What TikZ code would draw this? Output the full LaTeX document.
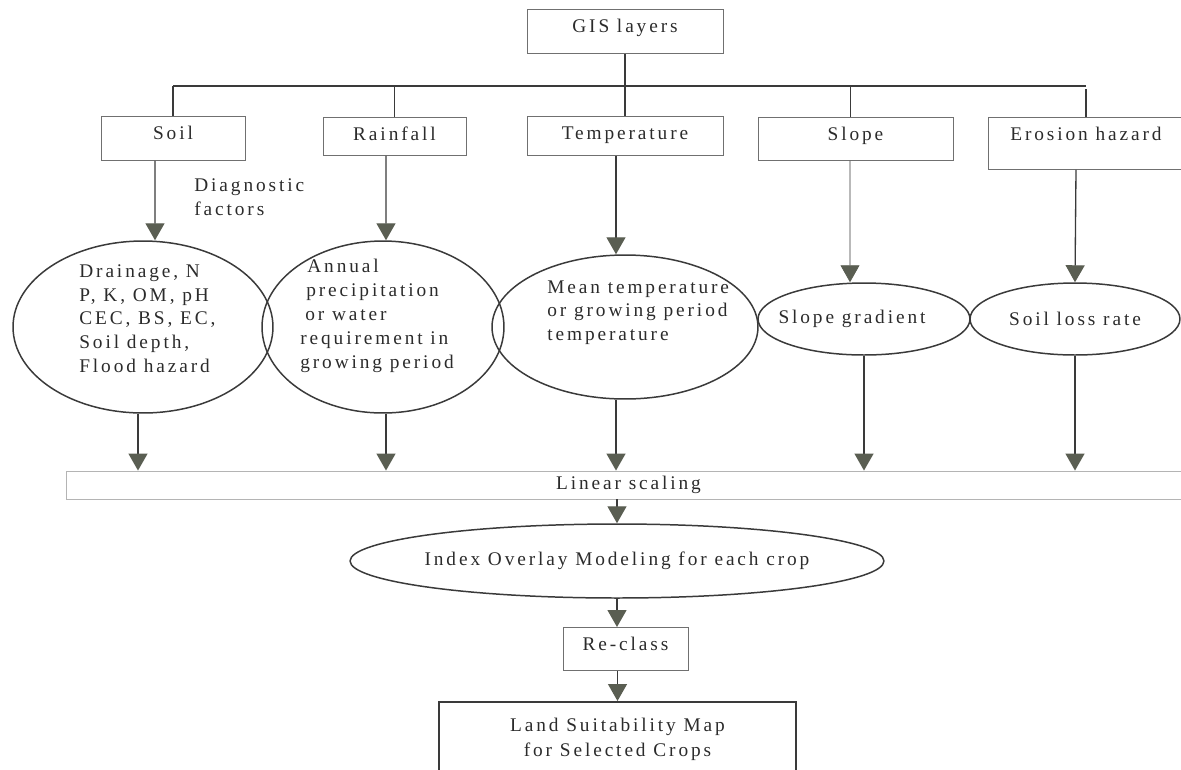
\documentclass[tikz,border=0pt]{standalone}
\usepackage{fontspec}
\setmainfont{Liberation Serif}[LetterSpace=15]
\usepackage{tikz}
\usetikzlibrary{positioning, calc, shapes.geometric, arrows.meta}
\tikzset{
    Arrow/.style = {
        line width=0.75pt, draw=lineGray,
        -{Triangle[width=0.38cm, length=0.34cm, fill=#1, color=#1]}
    },
    Arrow/.default={tipFill},
    layerBox/.style = {
        draw=boxGray, line width=0.5pt, anchor=north,
        inner xsep=0pt, inner ysep=0.12cm,
        text height=0.34cm, text depth=#1
    },
    layerBox/.default={0.3cm},
    factor/.style = {
        ellipse, draw=lineGray, line width=0.85pt,
        inner sep=0pt, align=left
    },
    note/.style = {align=left, inner sep=0pt},
    bus/.style = {draw=lineGray, line width=0.75pt}
}
\definecolor{lineGray}{HTML}{3A3A3A}
\definecolor{boxGray}{HTML}{707070}
\definecolor{barGray}{HTML}{B4B4B4}
\definecolor{tipFill}{HTML}{5A5E52}
\definecolor{textGray}{HTML}{2B2B2B}

\begin{document}
\begin{tikzpicture}[x=0.02cm, y=-0.02cm,
    every node/.style={font=\fontsize{11}{13.6}\selectfont, text=textGray}]
    \clip (0,0) rectangle (1181,769);
    % GIS layers and the five inputs
    \node[layerBox, minimum width=3.92cm] (gis) at (625,9) {GIS layers};
    \coordinate (bus) at (627,86);
    \node[layerBox, minimum width=2.88cm] (soil) at (173,116) {Soil};
    \node[layerBox=0.18cm, minimum width=2.86cm] (rain) at (394.5,117) {Rainfall};
    \node[layerBox=0.2cm, minimum width=3.92cm] (temp) at (625,116) {Temperature};
    \node[layerBox=0.28cm, minimum width=3.9cm] (slope) at (855.5,117) {Slope};
    \node[layerBox=0.46cm, minimum width=3.92cm] (erosion) at (1086,117) {Erosion hazard};
    \node[note, anchor=north west] (diag) at (194,178) {Diagnostic\\factors};
    % factors
    \node[factor, minimum width=5.2cm, minimum height=3.44cm] (soilE) at (143,327) {};
    \node[note, anchor=north west] (soilTxt) at (79,264)
        {Drainage, N\\P, K, OM, pH\\CEC, BS, EC,\\Soil depth,\\Flood hazard};
    \node[factor, minimum width=4.84cm, minimum height=3.44cm] (rainE) at (383,327) {};
    \node[note, anchor=north west] (rainTxt) at (300,259)
        {\hspace*{0.14cm}Annual\\\hspace*{0.12cm}precipitation\\\hspace*{0.1cm}or water\\requirement in\\growing period};
    \node[factor, minimum width=5.32cm, minimum height=2.88cm] (tempE) at (625,327) {};
    \node[note, anchor=north west] (tempTxt) at (547,280)
        {Mean temperature\\or growing period\\temperature};
    \node[factor, minimum width=4.24cm, minimum height=1.44cm] (slopeE) at (864,319) {};
    \node (slopeTxt) at (852,318.5) {Slope gradient};
    \node[factor, minimum width=4.2cm, minimum height=1.44cm] (lossE) at (1075,319) {Soil loss rate};
    % overlay steps
    \node[draw=barGray, line width=0.5pt, minimum width=22.5cm, minimum height=0.56cm,
        inner sep=0pt] (scaling) at (628.5,485) {Linear scaling};
    \node[factor, align=center, inner xsep=-0.4cm, minimum width=10.68cm,
        minimum height=1.48cm] (index) at (617,561) {Index Overlay Modeling for each crop};
    \node[layerBox=0.28cm, minimum width=2.5cm] (reclass) at (625.5,627) {Re-class};
    \node[draw=lineGray, line width=0.85pt, anchor=north, minimum width=7.14cm,
        minimum height=1.5cm, align=center, font=\fontsize{11}{14.2}\selectfont]
        (land) at (617.5,701) {Land Suitability Map\\for Selected Crops};

    \draw[bus] (gis.south) -- (gis.south |- bus);
    \draw[bus] (soil.north |- bus) -- (erosion.north |- bus);
    \draw[bus] (soil.north |- bus) -- (soil.north);
    \draw[bus] (rain.north |- bus) -- (rain.north);
    \draw[bus] (temp.north |- bus) -- (temp.north);
    \draw[bus] ([xshift=-0.1cm]slope.north |- bus) -- ([xshift=-0.1cm]slope.north);
    \draw[bus] ([yshift=-0.06cm]erosion.north |- bus) -- (erosion.north);

    \draw[Arrow] ([xshift=-0.36cm]soil.south) -- ([xshift=0.24cm]soilE.north);
    \draw[Arrow] ([xshift=-0.17cm]rain.south) -- ([xshift=0.06cm]rainE.north);
    \draw[Arrow] ([xshift=-0.18cm]temp.south) -- ([xshift=-0.18cm]tempE.north);
    \draw[Arrow, line width=0.5pt] ([xshift=-0.11cm]slope.south) -- ([xshift=-0.28cm]slopeE.north);
    \draw[Arrow] ([xshift=-0.2cm]erosion.south) -- (lossE.north);

    \draw[Arrow] ([xshift=-0.1cm]soilE.south) -- ([xshift=-0.1cm]soilE.south |- scaling.north);
    \draw[Arrow] ([xshift=0.06cm]rainE.south) -- ([xshift=0.06cm]rainE.south |- scaling.north);
    \draw[Arrow] ([xshift=-0.18cm]tempE.south) -- ([xshift=-0.18cm]tempE.south |- scaling.north);
    \draw[Arrow] (slopeE.south) -- (slopeE.south |- scaling.north);
    \draw[Arrow] (lossE.south) -- (lossE.south |- scaling.north);
    \draw[Arrow] (scaling.south -| index.north) -- (index.north);
    \draw[Arrow] (index.south) -- (index.south |- reclass.north);
    \draw[Arrow] (land.north |- reclass.south) -- (land.north);
\end{tikzpicture}
\end{document}
